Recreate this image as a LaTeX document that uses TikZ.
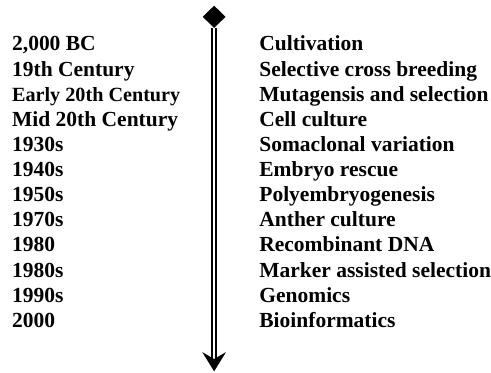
\documentclass[tikz,border=0pt]{standalone}
\usepackage{fontspec}
\setmainfont{Liberation Serif}
\usetikzlibrary{shapes.geometric}

\begin{document}
\begin{tikzpicture}[x=0.75pt,y=0.75pt,yscale=-1,xscale=1,
  era/.style={anchor=base west,inner sep=0pt,font=\fontsize{16.3}{18}\selectfont\bfseries},
  event/.style={anchor=base west,inner sep=0pt,font=\fontsize{16.3}{18}\selectfont\bfseries}]
\path (0,0) rectangle (491,377); %set diagram size

%Shape: Diamond [id:top]
\draw (216.5,17) node [diamond,fill=black,minimum width=17.5pt,minimum height=17pt,inner sep=0pt] (top) {};
\coordinate (shaftend) at (216.5,363);
%Straight Lines [id:shaft]
\draw [line width=1.5pt,double=white,double distance=1.7pt] (top.south) -- (shaftend);
%Shape: Arrow head [id:head]
\fill (shaftend) -- (228.5,356) -- (216.5,375.5) -- (204.5,356) -- cycle;

% Text Node
\draw (12,51.5) node [era] (d1) {2,000 BC};
% Text Node
\draw (12,76.9) node [era] (d2) {19th Century};
% Text Node
\draw (12,102.3) node [era,font=\fontsize{15.3}{18}\selectfont\bfseries] (d3) {Early 20th Century};
% Text Node
\draw (12,127.7) node [era] (d4) {Mid 20th Century};
% Text Node
\draw (12,153.1) node [era] (d5) {1930s};
% Text Node
\draw (12,178.5) node [era] (d6) {1940s};
% Text Node
\draw (12,203.9) node [era] (d7) {1950s};
% Text Node
\draw (12,229.3) node [era] (d8) {1970s};
% Text Node
\draw (12,254.7) node [era] (d9) {1980};
% Text Node
\draw (12,280.1) node [era] (d10) {1980s};
% Text Node
\draw (12,305.5) node [era] (d11) {1990s};
% Text Node
\draw (12,330.9) node [era] (d12) {2000};

% Text Node
\draw (262,51.5) node [event] (e1) {Cultivation};
% Text Node
\draw (262,76.9) node [event] (e2) {Selective cross breeding};
% Text Node
\draw (262,102.3) node [event] (e3) {Mutagensis and selection};
% Text Node
\draw (262,127.7) node [event] (e4) {Cell culture};
% Text Node
\draw (262,153.1) node [event] (e5) {Somaclonal variation};
% Text Node
\draw (262,178.5) node [event] (e6) {Embryo rescue};
% Text Node
\draw (262,203.9) node [event] (e7) {Polyembryogenesis};
% Text Node
\draw (262,229.3) node [event] (e8) {Anther culture};
% Text Node
\draw (262,254.7) node [event] (e9) {Recombinant DNA};
% Text Node
\draw (262,280.1) node [event] (e10) {Marker assisted selection};
% Text Node
\draw (262,305.5) node [event] (e11) {Genomics};
% Text Node
\draw (262,330.9) node [event] (e12) {Bioinformatics};

\end{tikzpicture}
\end{document}
